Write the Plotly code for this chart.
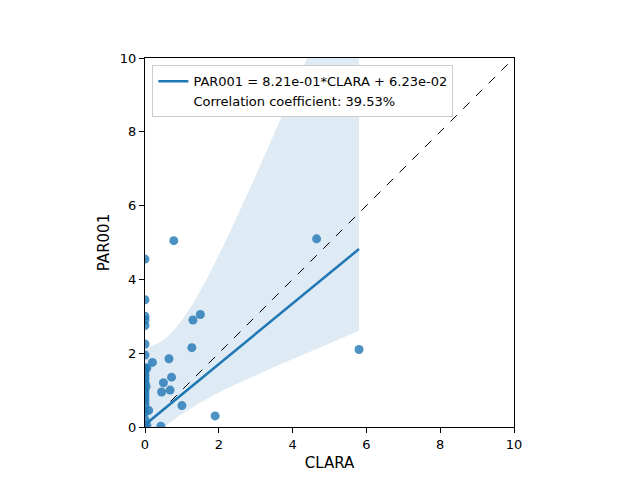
import numpy as np
import plotly.graph_objects as go

clara = [0, 0.78, 0, 0, 0, 0, 0, 0, 0.05, 0.2, 0.03, 0.65, 0.5, 0.72, 0.45, 0.68,
         1.3, 1.5, 1.27, 1.0, 1.9, 0.43, 0.1, 0.05, 4.65, 5.8,
         0, 0, 0, 0, 0, 0, 0, 0, 0, 0, 0, 0, 0]
par001 = [4.55, 5.05, 3.45, 3.0, 2.9, 2.75, 2.25, 1.95, 1.6, 1.75, 1.1, 1.85, 1.2, 1.35, 0.95, 1.0,
          2.9, 3.05, 2.15, 0.58, 0.3, 0.02, 0.45, 0.05, 5.1, 2.1,
          0, 0.2, 0.4, 0.6, 0.7, 0.8, 0.9, 1.0, 1.2, 1.3, 1.4, 1.5, 1.6]
slope, intercept, corr = 0.821, 0.0623, 39.53

x = np.array(clara)
y = np.array(par001)
xs = np.linspace(x.min(), x.max(), 100)
fit = slope * xs + intercept
# band of the mean, skewed like the bootstrap one
n = len(x)
resid = y - (slope * x + intercept)
s = np.sqrt((resid ** 2).sum() / (n - 2))
se = s * np.sqrt(1 / n + (xs - x.mean()) ** 2 / ((x - x.mean()) ** 2).sum())
lo, hi = fit - 1.7 * se, fit + 6.5 * se

blue = '#1f77b4'
fig = go.Figure()
fig.add_trace(go.Scatter(x=np.r_[xs, xs[::-1]], y=np.r_[hi, lo[::-1]], fill='toself',
                         fillcolor='rgba(31,119,180,0.15)', line=dict(width=0),
                         showlegend=False, hoverinfo='skip'))
fig.add_trace(go.Scatter(x=[0, 10], y=[0, 10], mode='lines',
                         line=dict(color='black', width=1, dash='dash'), showlegend=False))
fig.add_trace(go.Scatter(x=clara, y=par001, mode='markers', showlegend=False,
                         marker=dict(color=blue, opacity=0.8, size=9)))
fig.add_trace(go.Scatter(x=xs, y=fit, mode='lines', line=dict(color=blue, width=2.5),
                         name=f'PAR001 = {slope:.2e}*CLARA + {intercept:.2e}'))
fig.add_trace(go.Scatter(x=[None], y=[None], mode='lines', line=dict(width=0),
                         name=f'Correlation coefficient: {corr:.2f}%'))

ax = dict(range=[0, 10], dtick=2, showgrid=False, zeroline=False, showline=True,
          linecolor='black', mirror=True, ticks='outside', tickcolor='black',
          tickfont=dict(size=13, color='black'))
fig.update_layout(
    width=640, height=480, plot_bgcolor='white', paper_bgcolor='white',
    margin=dict(l=137, r=134, t=50, b=61),
    font=dict(family='DejaVu Sans', color='black'),
    xaxis=dict(ax, title=dict(text='CLARA', font=dict(size=15), standoff=6)),
    yaxis=dict(ax, title=dict(text='PAR001', font=dict(size=15), standoff=6)),
    legend=dict(x=0.02, y=0.98, xanchor='left', yanchor='top', bgcolor='white',
                bordercolor='#cccccc', borderwidth=1, font=dict(size=13)),
)
fig.write_html("out.html")
